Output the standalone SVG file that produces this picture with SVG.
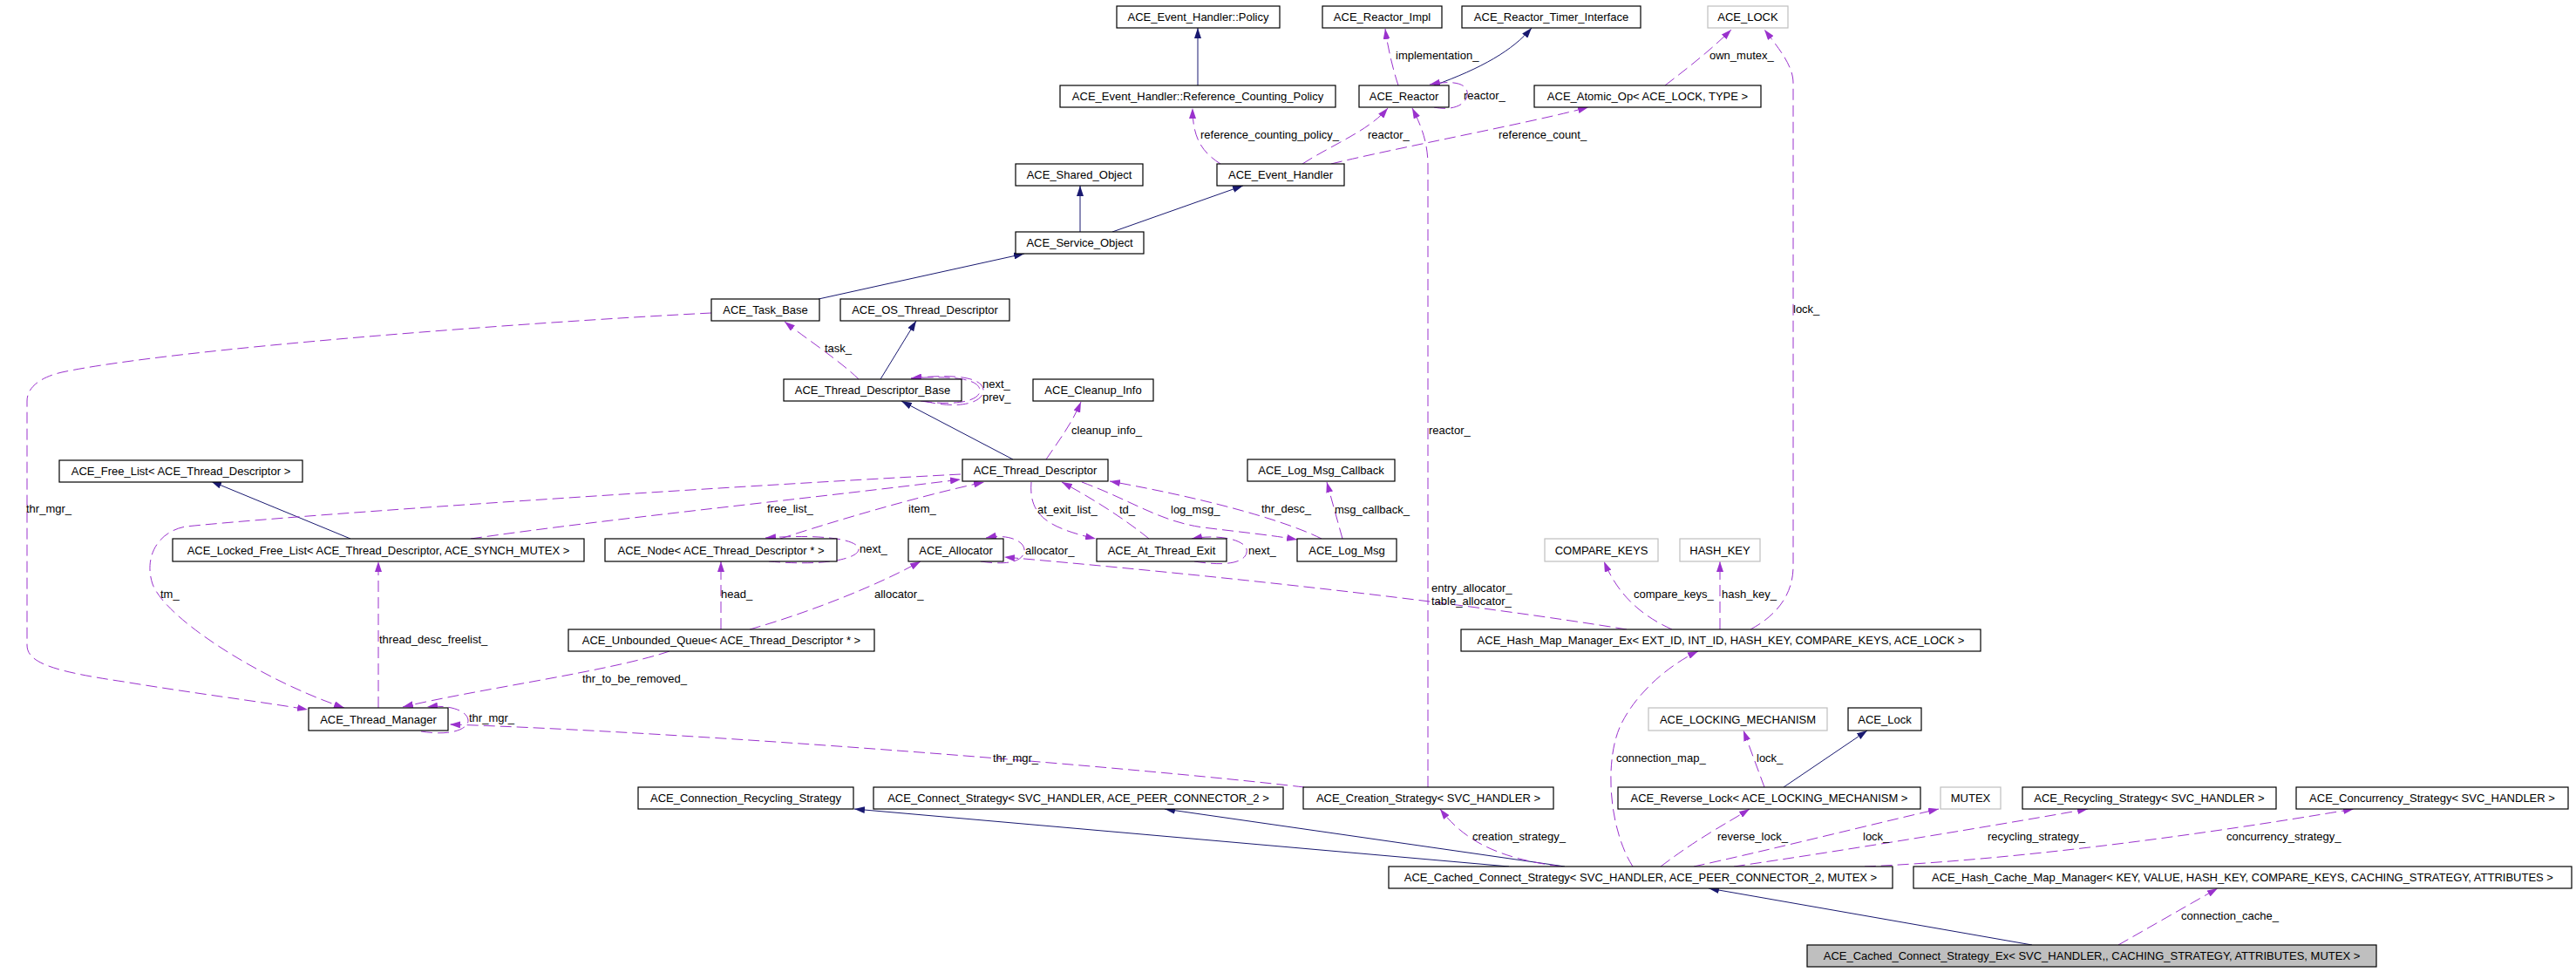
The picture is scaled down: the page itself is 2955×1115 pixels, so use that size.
<svg xmlns="http://www.w3.org/2000/svg" width="2955" height="1115" viewBox="0 0 2955 1115">
<defs>
<style>
.n rect{fill:#ffffff;stroke:#000000;stroke-width:1.2}
.n.g rect{stroke:#bfbfbf}
.n.m rect{fill:#bfbfbf}
.n text{font-family:"Liberation Sans",Arial,sans-serif;font-size:13px;fill:#000;text-anchor:middle}
.inh{fill:none;stroke:#191970;stroke-width:1;marker-end:url(#ah)}
.use{fill:none;stroke:#9a32cd;stroke-width:1;stroke-dasharray:13,6;marker-end:url(#au)}
.lb{font-family:"Liberation Sans",Arial,sans-serif;font-size:13px;fill:#000}
</style>
<marker id="ah" viewBox="0 0 12 8" refX="12" refY="4" markerWidth="12" markerHeight="8" markerUnits="userSpaceOnUse" orient="auto"><path d="M0,0 L12,4 L0,8 z" fill="#191970"/></marker>
<marker id="au" viewBox="0 0 12 8" refX="12" refY="4" markerWidth="12" markerHeight="8" markerUnits="userSpaceOnUse" orient="auto"><path d="M0,0 L12,4 L0,8 z" fill="#9a32cd"/></marker>
</defs>
<rect width="2955" height="1115" fill="#ffffff"/>

<g id="connectors">
<!-- inheritance -->
<path class="inh" d="M1374,98 L1374,32"/>
<path class="inh" d="M1645,98 C1700,78 1735,58 1757,32"/>
<path class="inh" d="M1239,266 L1239,213"/>
<path class="inh" d="M1276,266 L1426,213"/>
<path class="inh" d="M939,343 L1175,291"/>
<path class="inh" d="M1010,435 L1051,368"/>
<path class="inh" d="M1162,527 L1034,460"/>
<path class="inh" d="M402,618 L242,552"/>
<path class="inh" d="M2046,903 L2142,838"/>
<path class="inh" d="M1731,994 L980,928"/>
<path class="inh" d="M1795,994 L1336,928"/>
<path class="inh" d="M2331,1084 L1960,1019"/>
<!-- usage -->
<path class="use" d="M1400,188 C1380,175 1368,160 1368,124"/>
<path class="use" d="M1494,188 C1530,165 1570,150 1592,124"/>
<path class="use" d="M1527,188 C1600,170 1760,140 1822,123"/>
<path class="use" d="M1604,98 C1598,80 1592,55 1589,33"/>
<path class="use" d="M1645,123 C1670,128 1685,118 1683,105 C1681,95 1665,92 1640,97"/>
<path class="use" d="M1910,98 C1940,75 1965,55 1986,34"/>
<path class="use" d="M2008,722 C2040,705 2057,680 2057,650 L2057,95 C2057,75 2040,55 2024,34"/>
<path class="use" d="M1638,903 L1638,190 C1638,160 1628,140 1620,124"/>
<path class="use" d="M985,435 C965,415 920,385 900,369"/>
<path class="use" d="M1060,460 C1100,470 1128,462 1128,448 C1128,434 1100,428 1045,434"/>
<path class="use" d="M1056,460 C1096,466 1124,460 1124,448 C1124,436 1098,430 1045,434"/>
<path class="use" d="M1200,527 C1215,505 1230,485 1240,461"/>
<path class="use" d="M1516,618 C1480,600 1400,575 1273,552"/>
<path class="use" d="M1318,618 C1290,595 1250,570 1218,553"/>
<path class="use" d="M1183,553 C1180,590 1200,605 1257,618"/>
<path class="use" d="M1241,553 C1300,575 1330,598 1380,605 C1420,610 1460,614 1488,619"/>
<path class="use" d="M1370,644 C1420,652 1432,640 1430,630 C1428,620 1400,612 1367,618"/>
<path class="use" d="M1540,618 L1522,553"/>
<path class="use" d="M1125,644 C1165,650 1176,640 1175,630 C1174,620 1155,612 1131,617"/>
<path class="use" d="M1866,722 C1700,695 1450,665 1152,639"/>
<path class="use" d="M540,618 C700,595 900,575 1102,550"/>
<path class="use" d="M1102,544 C800,560 350,590 213,604 C180,610 165,640 175,670 C190,710 300,780 395,812"/>
<path class="use" d="M895,618 C950,600 1050,570 1129,553"/>
<path class="use" d="M882,644 C950,650 985,640 985,630 C985,620 950,612 878,617"/>
<path class="use" d="M816,359 C600,370 200,400 71,427 C45,433 31,445 31,460 L31,740 C31,760 60,770 142,782 C220,795 300,805 353,814"/>
<path class="use" d="M434,812 L434,644"/>
<path class="use" d="M827,722 L827,644"/>
<path class="use" d="M860,722 C920,705 1000,675 1056,644"/>
<path class="use" d="M768,747 C700,770 550,790 462,811"/>
<path class="use" d="M483,839 C520,845 538,835 537,826 C536,815 515,808 490,811"/>
<path class="use" d="M1496,903 C1300,880 800,840 516,831"/>
<path class="use" d="M1791,994 C1720,985 1680,965 1652,928"/>
<path class="use" d="M1873,994 C1845,950 1840,870 1860,830 C1880,790 1920,760 1948,747"/>
<path class="use" d="M1918,722 C1880,705 1855,680 1840,644"/>
<path class="use" d="M1973,722 L1973,644"/>
<path class="use" d="M2024,903 L2000,838"/>
<path class="use" d="M1905,994 C1950,960 1980,945 2007,928"/>
<path class="use" d="M1943,994 C2030,975 2150,945 2224,928"/>
<path class="use" d="M1989,994 C2120,975 2300,945 2395,928"/>
<path class="use" d="M2139,994 C2350,985 2600,945 2700,928"/>
<path class="use" d="M2430,1084 L2544,1019"/>
<!-- labels -->
<text class="lb" x="1377" y="158.5">reference_counting_policy_</text>
<text class="lb" x="1569" y="158.5">reactor_</text>
<text class="lb" x="1719" y="158.5">reference_count_</text>
<text class="lb" x="1601" y="67.5">implementation_</text>
<text class="lb" x="1679" y="114">reactor_</text>
<text class="lb" x="1961" y="67.5">own_mutex_</text>
<text class="lb" x="2057" y="358.5">lock_</text>
<text class="lb" x="1639" y="497.5">reactor_</text>
<text class="lb" x="946" y="403.5">task_</text>
<text class="lb" x="1127" y="444.5">next_</text>
<text class="lb" x="1127" y="459.5">prev_</text>
<text class="lb" x="1229" y="497.5">cleanup_info_</text>
<text class="lb" x="1447" y="588">thr_desc_</text>
<text class="lb" x="1284" y="589">td_</text>
<text class="lb" x="1190" y="589">at_exit_list_</text>
<text class="lb" x="1343" y="589">log_msg_</text>
<text class="lb" x="1432" y="635.5">next_</text>
<text class="lb" x="1531" y="589">msg_callback_</text>
<text class="lb" x="1176" y="635.5">allocator_</text>
<text class="lb" x="1642" y="678.5">entry_allocator_</text>
<text class="lb" x="1642" y="693.5">table_allocator_</text>
<text class="lb" x="880" y="588">free_list_</text>
<text class="lb" x="184" y="685.5">tm_</text>
<text class="lb" x="1042" y="588">item_</text>
<text class="lb" x="986" y="633.5">next_</text>
<text class="lb" x="30" y="587.5">thr_mgr_</text>
<text class="lb" x="435" y="737.5">thread_desc_freelist_</text>
<text class="lb" x="827" y="685.5">head_</text>
<text class="lb" x="1003" y="685.5">allocator_</text>
<text class="lb" x="668" y="783">thr_to_be_removed_</text>
<text class="lb" x="538" y="828">thr_mgr_</text>
<text class="lb" x="1139" y="873.5">thr_mgr_</text>
<text class="lb" x="1689" y="963.5">creation_strategy_</text>
<text class="lb" x="1854" y="873.5">connection_map_</text>
<text class="lb" x="1874" y="685.5">compare_keys_</text>
<text class="lb" x="1975" y="685.5">hash_key_</text>
<text class="lb" x="2015" y="873.5">lock_</text>
<text class="lb" x="1970" y="963.5">reverse_lock_</text>
<text class="lb" x="2137" y="963.5">lock_</text>
<text class="lb" x="2280" y="963.5">recycling_strategy_</text>
<text class="lb" x="2554" y="963.5">concurrency_strategy_</text>
<text class="lb" x="2502" y="1054.5">connection_cache_</text>
</g>

<g id="n_policy" class="n"><rect x="1281" y="7" width="187" height="25"/><text x="1374.5" y="24">ACE_Event_Handler::Policy</text></g>
<g id="n_reactor_impl" class="n"><rect x="1517" y="7" width="137" height="25"/><text x="1585.5" y="24">ACE_Reactor_Impl</text></g>
<g id="n_timer_iface" class="n"><rect x="1677" y="7" width="205" height="25"/><text x="1779.5" y="24">ACE_Reactor_Timer_Interface</text></g>
<g id="n_ace_lock_t" class="n g"><rect x="1959" y="7" width="92" height="25"/><text x="2005" y="24">ACE_LOCK</text></g>
<g id="n_refcount_policy" class="n"><rect x="1216" y="98" width="316" height="25"/><text x="1374" y="115">ACE_Event_Handler::Reference_Counting_Policy</text></g>
<g id="n_reactor" class="n"><rect x="1559" y="98" width="103" height="25"/><text x="1610.5" y="115">ACE_Reactor</text></g>
<g id="n_atomic_op" class="n"><rect x="1760" y="98" width="260" height="25"/><text x="1890" y="115">ACE_Atomic_Op&lt; ACE_LOCK, TYPE &gt;</text></g>
<g id="n_shared_object" class="n"><rect x="1165" y="188" width="146" height="25"/><text x="1238" y="205">ACE_Shared_Object</text></g>
<g id="n_event_handler" class="n"><rect x="1396" y="188" width="146" height="25"/><text x="1469" y="205">ACE_Event_Handler</text></g>
<g id="n_service_object" class="n"><rect x="1165" y="266" width="147" height="25"/><text x="1238.5" y="283">ACE_Service_Object</text></g>
<g id="n_task_base" class="n"><rect x="816" y="343" width="124" height="25"/><text x="878" y="360">ACE_Task_Base</text></g>
<g id="n_os_thread_desc" class="n"><rect x="964" y="343" width="194" height="25"/><text x="1061" y="360">ACE_OS_Thread_Descriptor</text></g>
<g id="n_thread_desc_base" class="n"><rect x="899" y="435" width="204" height="25"/><text x="1001" y="452">ACE_Thread_Descriptor_Base</text></g>
<g id="n_cleanup_info" class="n"><rect x="1185" y="435" width="138" height="25"/><text x="1254" y="452">ACE_Cleanup_Info</text></g>
<g id="n_free_list" class="n"><rect x="68" y="528" width="279" height="25"/><text x="207.5" y="545">ACE_Free_List&lt; ACE_Thread_Descriptor &gt;</text></g>
<g id="n_thread_desc" class="n"><rect x="1104" y="527" width="167" height="25"/><text x="1187.5" y="544">ACE_Thread_Descriptor</text></g>
<g id="n_log_msg_callback" class="n"><rect x="1431" y="527" width="169" height="25"/><text x="1515.5" y="544">ACE_Log_Msg_Callback</text></g>
<g id="n_locked_free_list" class="n"><rect x="198" y="618" width="472" height="26"/><text x="434" y="635.5">ACE_Locked_Free_List&lt; ACE_Thread_Descriptor, ACE_SYNCH_MUTEX &gt;</text></g>
<g id="n_node" class="n"><rect x="694" y="618" width="266" height="26"/><text x="827" y="635.5">ACE_Node&lt; ACE_Thread_Descriptor * &gt;</text></g>
<g id="n_allocator" class="n"><rect x="1042" y="618" width="109" height="26"/><text x="1096.5" y="635.5">ACE_Allocator</text></g>
<g id="n_at_thread_exit" class="n"><rect x="1258" y="618" width="149" height="26"/><text x="1332.5" y="635.5">ACE_At_Thread_Exit</text></g>
<g id="n_log_msg" class="n"><rect x="1488" y="618" width="114" height="26"/><text x="1545" y="635.5">ACE_Log_Msg</text></g>
<g id="n_compare_keys" class="n g"><rect x="1772" y="618" width="130" height="26"/><text x="1837" y="635.5">COMPARE_KEYS</text></g>
<g id="n_hash_key" class="n g"><rect x="1927" y="618" width="92" height="26"/><text x="1973" y="635.5">HASH_KEY</text></g>
<g id="n_unbounded_queue" class="n"><rect x="652" y="722" width="351" height="25"/><text x="827.5" y="739">ACE_Unbounded_Queue&lt; ACE_Thread_Descriptor * &gt;</text></g>
<g id="n_hash_map_mgr" class="n"><rect x="1676" y="722" width="596" height="25"/><text x="1974" y="739">ACE_Hash_Map_Manager_Ex&lt; EXT_ID, INT_ID, HASH_KEY, COMPARE_KEYS, ACE_LOCK &gt;</text></g>
<g id="n_thread_manager" class="n"><rect x="354" y="812" width="160" height="26"/><text x="434" y="829.5">ACE_Thread_Manager</text></g>
<g id="n_locking_mechanism" class="n g"><rect x="1891" y="812" width="205" height="26"/><text x="1993.5" y="829.5">ACE_LOCKING_MECHANISM</text></g>
<g id="n_lock" class="n"><rect x="2120" y="812" width="84" height="26"/><text x="2162" y="829.5">ACE_Lock</text></g>
<g id="n_conn_recycling" class="n"><rect x="732" y="903" width="247" height="25"/><text x="855.5" y="920">ACE_Connection_Recycling_Strategy</text></g>
<g id="n_connect_strategy" class="n"><rect x="1002" y="903" width="470" height="25"/><text x="1237" y="920">ACE_Connect_Strategy&lt; SVC_HANDLER, ACE_PEER_CONNECTOR_2 &gt;</text></g>
<g id="n_creation_strategy" class="n"><rect x="1495" y="903" width="287" height="25"/><text x="1638.5" y="920">ACE_Creation_Strategy&lt; SVC_HANDLER &gt;</text></g>
<g id="n_reverse_lock" class="n"><rect x="1856" y="903" width="347" height="25"/><text x="2029.5" y="920">ACE_Reverse_Lock&lt; ACE_LOCKING_MECHANISM &gt;</text></g>
<g id="n_mutex" class="n g"><rect x="2226" y="903" width="69" height="25"/><text x="2260.5" y="920">MUTEX</text></g>
<g id="n_recycling_strategy" class="n"><rect x="2320" y="903" width="291" height="25"/><text x="2465.5" y="920">ACE_Recycling_Strategy&lt; SVC_HANDLER &gt;</text></g>
<g id="n_concurrency_strategy" class="n"><rect x="2634" y="903" width="312" height="25"/><text x="2790" y="920">ACE_Concurrency_Strategy&lt; SVC_HANDLER &gt;</text></g>
<g id="n_cached_connect" class="n"><rect x="1593" y="994" width="578" height="25"/><text x="1882" y="1011">ACE_Cached_Connect_Strategy&lt; SVC_HANDLER, ACE_PEER_CONNECTOR_2, MUTEX &gt;</text></g>
<g id="n_hash_cache_map" class="n"><rect x="2195" y="994" width="755" height="25"/><text x="2572.5" y="1011">ACE_Hash_Cache_Map_Manager&lt; KEY, VALUE, HASH_KEY, COMPARE_KEYS, CACHING_STRATEGY, ATTRIBUTES &gt;</text></g>
<g id="n_cached_connect_ex" class="n m"><rect x="2073" y="1084" width="653" height="25"/><text x="2399.5" y="1101">ACE_Cached_Connect_Strategy_Ex&lt; SVC_HANDLER,, CACHING_STRATEGY, ATTRIBUTES, MUTEX &gt;</text></g>
</svg>
